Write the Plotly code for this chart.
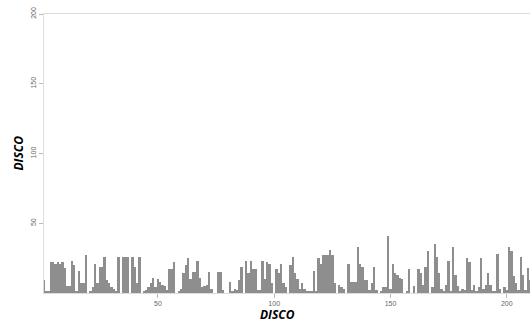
import plotly.graph_objects as go

seg1 = [9, 1, 1, 22, 22, 21, 22, 21, 22, 18, 5, 5, 23, 20, 1, 16, 7, 7, 27, 0,
        1, 4, 21, 7, 19, 19, 26, 9, 7, 4, 3, 1, 26, 0, 26, 26, 26, 0, 26, 19,
        7, 26, 0, 1, 2, 4, 7, 11, 4, 10, 8, 6, 5]
seg2 = [2, 17, 17, 22, 0, 1, 3, 14, 20, 25, 10, 15, 15, 23, 11, 4, 5, 6, 15, 3,
        0, 0, 15, 15, 2, 0, 0, 8, 1, 3, 2, 9, 19, 0, 23, 14, 23, 17, 17, 2,
        2, 23, 10, 22, 21, 7, 0, 17, 14, 21, 7, 4]
seg3 = [0, 20, 26, 14, 10, 3, 7, 3, 1, 1, 1, 16, 1, 25, 21, 27, 27, 27, 31, 27,
        7, 0, 6, 4, 3, 0, 21, 8, 8, 8, 33, 21, 19, 9, 9, 2, 7, 19, 2, 0,
        1, 4, 4, 41, 3, 21, 14, 13, 11, 10, 0, 1]
seg4 = [17, 0, 5, 0, 17, 14, 6, 19, 30, 0, 4, 35, 26, 14, 3, 1, 6, 23, 1, 33,
        13, 5, 1, 3, 2, 25, 22, 2, 6, 1, 4, 25, 3, 6, 14, 6, 1, 1, 28, 3,
        0, 4, 2, 33, 30, 12, 7, 2, 26, 13, 2, 18, 9]

values = seg1 + seg2 + seg3 + seg4
positions = list(range(1, len(values) + 1))

x_ticks = [50, 100, 150, 200]
y_ticks = [50, 100, 150, 200]
x_title = "DISCO"
y_title = "DISCO"

fig = go.Figure(go.Bar(
    x=positions, y=values, width=1.0,
    marker=dict(color="#8e8e8e", line=dict(width=0)),
))

tickfont = dict(family="Liberation Sans, Arial, sans-serif", size=7, color="#666666")
titlefont = dict(family="Open Sans, sans-serif", size=12, color="#000000",
                 weight="bold", style="italic")

fig.update_layout(
    width=530, height=322,
    margin=dict(l=44, r=0, t=14, b=29),
    paper_bgcolor="white", plot_bgcolor="white",
    bargap=0, showlegend=False,
    xaxis=dict(
        range=[1, 210], tickmode="array", tickvals=x_ticks,
        ticks="outside", ticklen=4, tickcolor="#bbbbbb", tickwidth=1,
        showline=True, linecolor="#dddddd", linewidth=1, mirror=True,
        showgrid=False, zeroline=False, tickfont=tickfont,
        automargin=False,
    ),
    yaxis=dict(
        range=[0, 200], tickmode="array", tickvals=y_ticks,
        ticks="outside", ticklen=4, tickcolor="#bbbbbb", tickwidth=1,
        showline=True, linecolor="#dddddd", linewidth=1,
        showgrid=False, zeroline=False, tickfont=tickfont, tickangle=-90,
        automargin=False,
    ),
    annotations=[
        dict(text=x_title, xref="paper", yref="paper", x=0.5, y=0,
             xanchor="center", yanchor="middle", yshift=-21, xshift=-10,
             showarrow=False, font=titlefont),
        dict(text=y_title, xref="paper", yref="paper", x=0, y=0.5,
             xanchor="center", yanchor="middle", xshift=-26, textangle=-90,
             showarrow=False, font=titlefont),
    ],
)

fig.write_html(
    "out.html",
    config={"displayModeBar": False},
    post_script="document.body.style.margin='0';document.body.style.overflow='hidden';",
)
